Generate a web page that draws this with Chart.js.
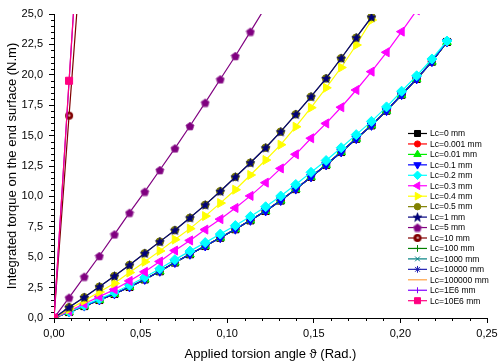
<!DOCTYPE html>
<html>
<head>
<meta charset="utf-8">
<script src="https://cdn.jsdelivr.net/npm/chart.js"></script>
<style>
  html, body { margin: 0; padding: 0; background: #fff; }
</style>
</head>
<body>
<canvas id="torque" width="502" height="364"></canvas>
<script>
// applied torsion angle, 0.5 degree steps (rad)
const angles = [0, 0.0087, 0.0175, 0.0262, 0.0349, 0.0436, 0.0524, 0.0611, 0.0698, 0.0785,
  0.0873, 0.0960, 0.1047, 0.1134, 0.1222, 0.1309, 0.1396, 0.1484, 0.1571, 0.1658,
  0.1745, 0.1833, 0.1920, 0.2007, 0.2094, 0.2182, 0.2269];

const lcLabels = ['Lc=0 mm', 'Lc=0.001 mm', 'Lc=0.01 mm', 'Lc=0.1 mm', 'Lc=0.2 mm', 'Lc=0.3 mm',
  'Lc=0.4 mm', 'Lc=0.5 mm', 'Lc=1 mm', 'Lc=5 mm', 'Lc=10 mm', 'Lc=100 mm', 'Lc=1000 mm',
  'Lc=10000 mm', 'Lc=100000 mm', 'Lc=1E6 mm', 'Lc=10E6 mm'];

// integrated torque (N.m)
const torqueBase = [0, 0.49, 0.98, 1.48, 1.98, 2.55, 3.17, 3.84, 4.56, 5.24, 5.92, 6.6, 7.3, 8.03,
  8.8, 9.66, 10.6, 11.6, 12.58, 13.65, 14.74, 15.84, 17.05, 18.36, 19.66, 21.08, 22.7];
const torqueLc02 = [0, 0.52, 1.04, 1.57, 2.1, 2.7, 3.35, 4.05, 4.8, 5.5, 6.2, 6.9, 7.6, 8.35,
  9.15, 10.03, 10.98, 11.98, 12.95, 14.0, 15.08, 16.17, 17.36, 18.65, 19.92, 21.3, 22.78];
const torqueLc03 = [0, 0.58, 1.17, 1.76, 2.35, 3.05, 3.8, 4.65, 5.55, 6.38, 7.27, 8.13, 9.05,
  10.04, 11.13, 12.3, 13.46, 14.78, 16.0, 17.33, 18.75, 20.26, 21.85, 23.55, 25.3];
const torqueLc04 = [0, 0.72, 1.43, 2.14, 2.85, 3.74, 4.62, 5.52, 6.45, 7.35, 8.38, 9.45, 10.55,
  11.76, 12.99, 14.25, 15.73, 17.3, 18.93, 20.6, 22.45, 24.5];
const torqueLc05 = [0, 0.88, 1.7, 2.57, 3.45, 4.36, 5.32, 6.28, 7.22, 8.24, 9.3, 10.42, 11.6,
  12.77, 14.0, 15.32, 16.75, 18.2, 19.7, 21.36, 23.05, 24.75];
const torqueLc1 = [0, 0.88, 1.7, 2.57, 3.45, 4.36, 5.32, 6.28, 7.22, 8.24, 9.3, 10.42, 11.6,
  12.77, 14.0, 15.32, 16.75, 18.2, 19.7, 21.36, 23.05, 24.75];
const torqueLc5 = [0, 1.68, 3.4, 5.1, 6.88, 8.66, 10.39, 12.17, 13.95, 15.79, 17.71, 19.63, 21.55, 23.55, 25.6];
const torqueLc10 = [0, 16.64, 33.3];
const torqueLc1E6 = [0, 19.45, 38.9];
const torqueLc10E6 = [0, 19.51, 39.0];

const seriesValues = [torqueBase, torqueBase, torqueBase, torqueBase, torqueLc02, torqueLc03,
  torqueLc04, torqueLc05, torqueLc1, torqueLc5, torqueLc10, torqueBase, torqueBase,
  torqueBase, torqueBase, torqueLc1E6, torqueLc10E6];

const xTicks = [0, 0.05, 0.10, 0.15, 0.20, 0.25];
const yTicks = [0, 2.5, 5, 7.5, 10, 12.5, 15, 17.5, 20, 22.5, 25];

// custom markers
function marker(size, draw) {
  const c = document.createElement('canvas');
  c.width = c.height = size;
  draw(c.getContext('2d'), size / 2);
  return c;
}
const pentagon = marker(10, (g, m) => {
  g.beginPath();
  for (let k = 0; k < 5; k++) {
    const a = -Math.PI / 2 + k * 2 * Math.PI / 5;
    g.lineTo(m + 4.3 * Math.cos(a), m + 4.5 + 4.3 * Math.sin(a) - 4);
  }
  g.closePath();
  g.fillStyle = '#800080'; g.fill();
  g.strokeStyle = '#9a3a9a'; g.lineWidth = 0.8; g.stroke();
});
const filledStar = marker(11, (g, m) => {
  g.beginPath();
  for (let k = 0; k < 10; k++) {
    const a = -Math.PI / 2 + k * Math.PI / 5;
    const r = k % 2 ? 2.0 : 4.8;
    g.lineTo(m + r * Math.cos(a), m + 0.4 + r * Math.sin(a));
  }
  g.closePath();
  g.fillStyle = '#000080'; g.fill();
  g.strokeStyle = '#000060'; g.lineWidth = 0.6; g.stroke();
});
const ball = marker(10, (g, m) => {
  g.beginPath(); g.arc(m, m, 4, 0, 2 * Math.PI);
  g.fillStyle = '#800000'; g.fill();
  g.beginPath(); g.arc(m + 0.3, m - 0.3, 1.2, 0, 2 * Math.PI);
  g.fillStyle = '#d8a8a8'; g.fill();
});

const styles = [
  { color: '#000000', point: 'rect', radius: 5, rot: 0 },
  { color: '#ff0000', point: 'circle', radius: 3.6, rot: 0 },
  { color: '#00ee00', point: 'triangle', radius: 5, rot: 0 },
  { color: '#0000ff', point: 'triangle', radius: 5, rot: 180 },
  { color: '#00ffff', point: 'rectRot', radius: 5, rot: 0 },
  { color: '#ff00ff', point: 'triangle', radius: 5.2, rot: 270 },
  { color: '#ffff00', point: 'triangle', radius: 5.2, rot: 90 },
  { color: '#808000', point: 'circle', radius: 3.8, rot: 0 },
  { color: '#000080', point: filledStar, radius: 5, rot: 0 },
  { color: '#800080', point: pentagon, radius: 5, rot: 0 },
  { color: '#800000', point: ball, radius: 4, rot: 0 },
  { color: '#008000', point: 'cross', radius: 4, rot: 0 },
  { color: '#008080', point: 'crossRot', radius: 4, rot: 0 },
  { color: '#2020b0', point: 'star', radius: 4, rot: 0 },
  { color: '#ffa040', point: 'line', radius: 0, rot: 0 },
  { color: '#8000ff', point: 'line', radius: 3.5, rot: 90 },
  { color: '#ff0080', point: 'rect', radius: 5, rot: 0 }
];

// draw weight: higher is painted first (underneath)
const drawOrder = [17, 16, 15, 14, 13, 12, 11, 10, 9, 8, 7, 24, 23, 22, 21, 2, 1];

const datasets = lcLabels.map((label, i) => ({
  label: label,
  data: seriesValues[i].map((v, k) => ({ x: angles[k], y: v })),
  borderColor: styles[i].color,
  backgroundColor: styles[i].color,
  pointBackgroundColor: styles[i].color,
  pointBorderColor: styles[i].color,
  pointStyle: styles[i].point,
  pointRadius: styles[i].radius,
  pointRotation: styles[i].rot,
  pointBorderWidth: 1,
  borderWidth: 1.2,
  tension: 0,
  order: drawOrder[i]
}));

const minorTicks = {
  id: 'minorTicks',
  afterDraw(chart) {
    const ctx = chart.ctx, xs = chart.scales.x, ys = chart.scales.y;
    ctx.save();
    ctx.strokeStyle = '#000';
    ctx.lineWidth = 1;
    ctx.beginPath();
    for (let k = 1; k < 25; k++) {
      if (k % 5 === 0) continue;
      const px = Math.round(xs.getPixelForValue(k * 0.01)) + 0.5;
      ctx.moveTo(px, ys.bottom);
      ctx.lineTo(px, ys.bottom + 3);
    }
    for (let k = 1; k < 50; k++) {
      if (k % 5 === 0) continue;
      const py = Math.round(ys.getPixelForValue(k * 0.5)) + 0.5;
      ctx.moveTo(xs.left - 3, py);
      ctx.lineTo(xs.left, py);
    }
    ctx.stroke();
    ctx.restore();
  }
};

const boxLegend = {
  id: 'boxLegend',
  afterDraw(chart) {
    const ctx = chart.ctx, area = chart.chartArea;
    const x0 = area.right - 79, y0 = area.top + 119.5, dy = 10.45;
    ctx.save();
    ctx.font = '8.5px "Liberation Sans", Arial, sans-serif';
    ctx.textBaseline = 'middle';
    chart.data.datasets.forEach((ds, i) => {
      const y = y0 + i * dy;
      ctx.strokeStyle = ds.borderColor;
      ctx.lineWidth = 1.2;
      ctx.beginPath();
      ctx.moveTo(x0, y);
      ctx.lineTo(x0 + 19, y);
      ctx.stroke();
      if (ds.pointRadius > 0) {
        ctx.fillStyle = ds.pointBackgroundColor;
        ctx.strokeStyle = ds.pointBorderColor;
        ctx.lineWidth = 1;
        Chart.helpers.drawPoint(ctx, {
          pointStyle: ds.pointStyle, rotation: ds.pointRotation,
          radius: ds.pointRadius * 0.85, borderWidth: 1
        }, x0 + 9.5, y);
      }
      ctx.fillStyle = '#000';
      ctx.fillText(ds.label, x0 + 22, y + 0.5);
    });
    ctx.restore();
  }
};

const font = '"Liberation Sans", Arial, sans-serif';

new Chart(document.getElementById('torque').getContext('2d'), {
  type: 'line',
  data: { datasets: datasets },
  options: {
    responsive: false,
    animation: false,
    layout: { padding: { left: 0, top: 14, right: 15, bottom: 0 } },
    plugins: {
      legend: { display: false },
      tooltip: { enabled: false }
    },
    scales: {
      x: {
        type: 'linear',
        min: 0, max: 0.25,
        afterFit: s => { s.height = 46; },
        afterBuildTicks: s => { s.ticks = xTicks.map(v => ({ value: v })); },
        border: { color: '#000', width: 1 },
        grid: { drawOnChartArea: false, color: '#000', tickLength: 5 },
        ticks: {
          color: '#000', padding: 4,
          font: { family: font, size: 11 },
          maxRotation: 0,
          callback: v => v.toFixed(2).replace('.', ',')
        },
        title: {
          display: true, text: 'Applied torsion angle \u03D1 (Rad.)', color: '#000',
          font: { family: font, size: 13 }, padding: { top: 0, bottom: 2 }
        }
      },
      y: {
        min: 0, max: 25,
        afterFit: s => { s.width = 54; },
        afterBuildTicks: s => { s.ticks = yTicks.map(v => ({ value: v })); },
        border: { color: '#000', width: 1 },
        grid: { drawOnChartArea: false, color: '#000', tickLength: 5 },
        ticks: {
          color: '#000', padding: 6,
          font: { family: font, size: 11 },
          callback: v => v.toFixed(1).replace('.', ',')
        },
        title: {
          display: true, text: 'Integrated torque on the end surface (N.m)', color: '#000',
          font: { family: font, size: 13 }, padding: { top: 5, bottom: 0 }
        }
      }
    }
  },
  plugins: [minorTicks, boxLegend]
});
</script>
</body>
</html>
